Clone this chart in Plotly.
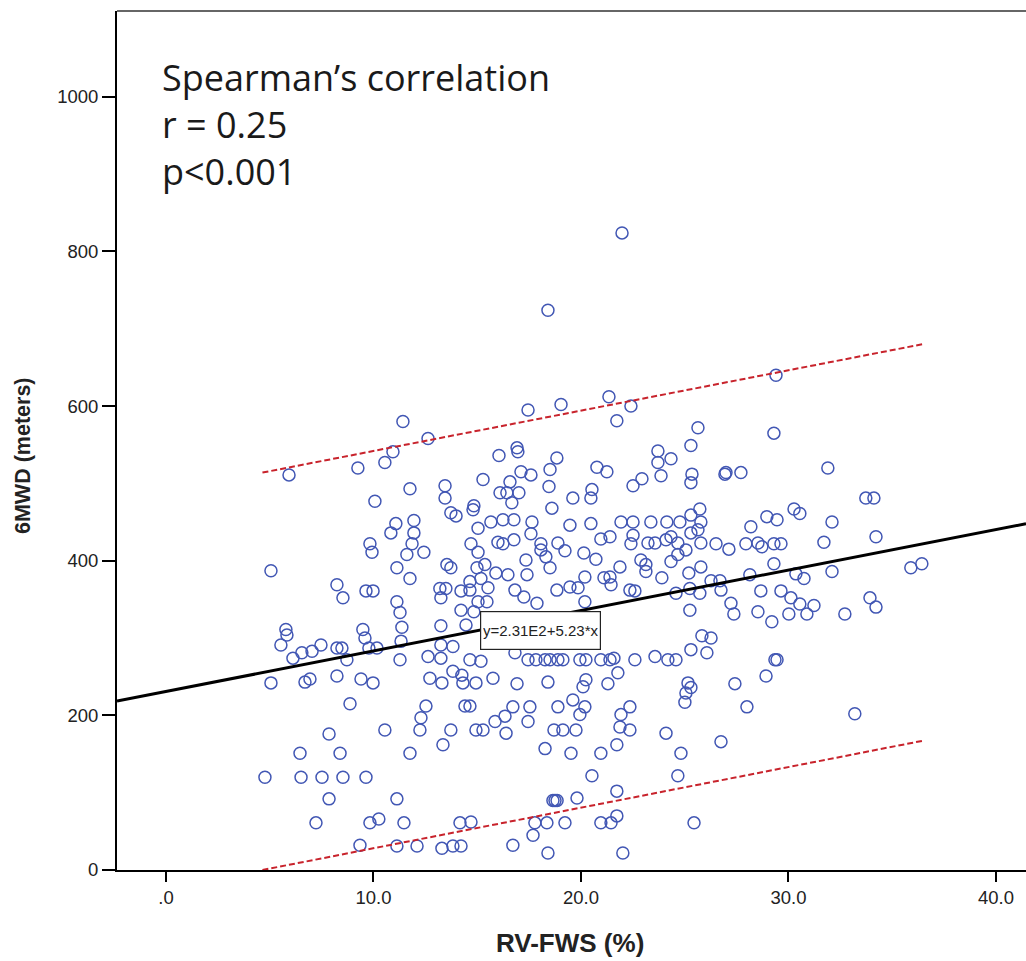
import plotly.graph_objects as go

# RV free-wall strain (%) and six-minute walk distance (m)
RV_FWS = [
    11.42, 12.63, 10.94, 10.55, 9.25, 5.93, 11.76, 13.45, 13.45, 15.28, 10.07, 14.84, 14.80, 13.73, 13.98,
    11.08, 10.84, 11.95, 11.95, 11.86, 15.04, 9.83, 9.93, 12.43, 11.61, 14.70, 15.04, 5.06, 11.13, 13.54,
    13.73, 14.99, 11.76, 15.18, 8.24, 8.53, 9.64, 9.98, 11.13, 11.28, 13.20, 13.49, 13.25, 14.22, 14.65,
    14.65, 14.22, 14.84, 11.37, 13.25, 14.46, 5.78, 9.49, 5.83, 5.54, 6.12, 6.55, 7.04, 7.47, 8.24,
    8.48, 8.72, 9.59, 9.78, 10.17, 11.28, 11.33, 5.06, 6.70, 6.94, 8.24, 9.40, 9.98, 8.87, 12.63,
    13.25, 13.83, 13.25, 12.72, 13.30, 13.83, 14.26, 14.31, 14.94, 14.65, 15.18, 12.53, 12.29, 12.24, 14.41,
    14.65, 10.55, 13.73, 13.35, 14.94, 15.28, 7.86, 6.46, 8.39, 11.76, 4.77, 6.51, 7.52, 8.53, 9.64,
    7.86, 11.13, 7.23, 9.83, 10.26, 11.47, 14.17, 14.70, 9.35, 11.13, 12.10, 13.30, 13.83, 14.22,
    17.45, 19.04, 21.35, 22.41, 21.73, 25.64, 25.30, 16.05, 16.92, 16.96, 18.84, 18.51, 17.11, 17.59,
    16.58, 16.10, 16.43, 17.01, 16.67, 18.46, 20.77, 21.25, 23.71, 24.34, 23.71, 23.86, 25.35, 25.30,
    22.51, 22.94, 20.53, 20.48, 19.61, 18.60, 15.66, 16.24, 16.77, 17.64, 17.59, 19.47, 20.48, 21.93,
    22.51, 23.37, 24.14, 24.77, 25.30, 25.73, 25.78, 16.00, 16.24, 16.77, 18.07, 18.07, 18.89, 19.23,
    20.96, 21.40, 22.51, 22.41, 23.23, 23.57, 24.10, 24.34, 24.67, 25.06, 25.30, 25.64, 25.78, 17.35,
    18.31, 18.51, 20.14, 20.72, 22.89, 23.13, 23.13, 24.34, 24.67, 25.20, 25.78, 15.37, 15.90, 16.48,
    17.40, 20.19, 21.11, 21.40, 21.45, 21.88, 23.90, 15.52, 16.82, 17.25, 17.88, 18.84, 19.47, 19.86,
    22.36, 22.60, 24.58, 25.25, 25.73, 15.04, 15.47, 20.19, 25.25,
    29.40, 29.30, 31.90, 26.94, 26.99, 27.71, 33.73, 34.12, 30.27, 30.55, 28.96, 29.45, 28.19, 32.10,
    26.51, 27.13, 27.95, 28.53, 28.72, 29.30, 29.64, 31.71, 34.22, 29.30, 28.14, 30.36, 30.75, 32.10,
    35.90, 36.43, 26.27, 26.70, 26.75, 28.67, 29.64, 30.12, 27.23, 27.37, 28.53, 30.02, 30.55, 31.23,
    30.89, 32.72, 33.93, 34.22, 29.20,
    15.76, 16.82, 17.45, 17.83, 18.27, 18.51, 18.89, 19.13, 19.95, 20.24, 20.96, 21.40, 21.59, 21.78,
    22.60, 23.57, 24.19, 24.58, 25.30, 25.83, 26.27, 26.07, 16.92, 18.41, 20.24, 20.10, 21.30, 25.16,
    25.06, 25.01, 25.30, 16.72, 17.54, 17.45, 18.89, 19.61, 20.19, 19.95, 22.36, 21.93, 21.88, 22.36,
    15.86, 16.34, 16.39, 18.70, 19.13, 19.76, 24.10, 18.27, 19.52, 20.96, 21.73, 24.82, 20.53, 24.67,
    18.65, 18.75, 18.85, 19.81, 21.73, 17.78, 18.36, 17.69, 19.23, 20.96, 21.45, 21.73, 25.45, 16.72,
    18.41, 22.02, 29.35, 29.45, 28.92, 27.42, 28.00, 33.20, 26.75, 21.98, 18.41,
]
SIX_MWD = [
    580, 558, 541, 527, 520, 511, 493, 497, 481, 505, 477, 471, 466, 462, 458,
    448, 436, 452, 436, 422, 442, 422, 411, 411, 408, 422, 411, 387, 391, 395,
    391, 391, 377, 377, 369, 352, 361, 361, 347, 333, 364, 364, 352, 361, 362,
    373, 336, 334, 314, 316, 317, 311, 311, 304, 291, 274, 281, 283, 291, 287,
    287, 272, 300, 287, 287, 272, 296, 242, 243, 247, 251, 247, 242, 215, 276,
    274, 289, 291, 248, 242, 257, 252, 242, 242, 272, 270, 212, 197, 181, 212,
    212, 181, 181, 162, 181, 181, 176, 151, 151, 151, 120, 120, 120, 120, 120,
    92, 92, 61, 61, 66, 61, 61, 62, 32, 31, 31, 28, 31, 31,
    595, 602, 612, 600, 581, 572, 549, 536, 546, 541, 533, 518, 515, 511,
    502, 488, 488, 488, 475, 496, 521, 515, 542, 532, 527, 510, 512, 501,
    497, 506, 492, 481, 481, 468, 450, 453, 453, 450, 435, 446, 448, 450,
    450, 450, 450, 450, 459, 467, 450, 424, 422, 427, 422, 414, 423, 413,
    428, 431, 433, 422, 423, 423, 427, 431, 423, 414, 436, 440, 423, 401,
    405, 391, 410, 402, 401, 395, 386, 399, 408, 384, 392, 395, 384, 382,
    382, 379, 378, 379, 369, 392, 378, 365, 362, 353, 345, 362, 366, 365,
    362, 361, 358, 364, 358, 347, 347, 347, 336,
    640, 565, 520, 512, 514, 514, 481, 481, 467, 461, 457, 453, 444, 450,
    422, 415, 422, 423, 418, 422, 422, 424, 431, 396, 382, 383, 377, 386,
    391, 396, 374, 374, 362, 361, 361, 352, 345, 331, 334, 331, 344, 342,
    331, 331, 352, 340, 321,
    248, 281, 272, 272, 272, 272, 272, 272, 272, 272, 272, 272, 274, 255,
    272, 276, 272, 272, 285, 303, 300, 281, 241, 243, 246, 237, 241, 242,
    229, 217, 236, 211, 211, 192, 211, 220, 211, 201, 211, 201, 185, 181,
    192, 199, 177, 181, 181, 181, 177, 157, 151, 151, 162, 151, 122, 122,
    90, 90, 90, 93, 102, 61, 61, 45, 61, 61, 61, 70, 61, 32,
    22, 22, 272, 272, 251, 241, 211, 202, 166, 824, 724,
]

# Linear fit shown on the chart: y = 2.31E2 + 5.23*x
FIT_INTERCEPT = 231
FIT_SLOPE = 5.23
# 95% individual prediction limits (end points)
PI_X = [4.65, 36.45]
PI_UPPER = [514, 680]
PI_LOWER = [0, 167]

X_RANGE = [-2.36, 41.45]
Y_RANGE = [0, 1111]
X_TICKS = [0, 10, 20, 30, 40]
X_TICKTEXT = [".0", "10.0", "20.0", "30.0", "40.0"]
Y_TICKS = [0, 200, 400, 600, 800, 1000]
Y_TICKTEXT = ["0", "200", "400", "600", "800", "1000"]

STAT_LINES = ["Spearman’s correlation", "r = 0.25", "p<0.001"]
EQUATION = "y=2.31E2+5.23*x"

fit_x = X_RANGE
fit_y = [FIT_INTERCEPT + FIT_SLOPE * v for v in fit_x]

fig = go.Figure()
fig.add_trace(go.Scatter(
    x=RV_FWS, y=SIX_MWD, mode="markers",
    marker=dict(symbol="circle-open", size=12, color="#4257b4", line=dict(width=1.5, color="#4257b4")),
    showlegend=False, hoverinfo="x+y",
))
fig.add_trace(go.Scatter(x=PI_X, y=PI_UPPER, mode="lines",
                         line=dict(color="#c8232c", width=2, dash="6px,3px"), showlegend=False))
fig.add_trace(go.Scatter(x=PI_X, y=PI_LOWER, mode="lines",
                         line=dict(color="#c8232c", width=2, dash="6px,3px"), showlegend=False))
fig.add_trace(go.Scatter(x=fit_x, y=fit_y, mode="lines",
                         line=dict(color="black", width=3), showlegend=False))

tick_font = dict(family="Liberation Sans, Arial, sans-serif", size=18.5, color="#222")

fig.update_layout(
    width=1026, height=961,
    margin=dict(l=117, r=0, t=11, b=91),
    paper_bgcolor="white", plot_bgcolor="white",
    xaxis=dict(range=X_RANGE, tickvals=X_TICKS, ticktext=X_TICKTEXT, showgrid=False, zeroline=False,
               showline=True, linecolor="black", linewidth=2, ticks="outside", ticklen=10,
               tickwidth=2, tickcolor="black", tickfont=tick_font),
    yaxis=dict(range=Y_RANGE, tickvals=Y_TICKS, ticktext=Y_TICKTEXT, showgrid=False, zeroline=False,
               showline=True, linecolor="black", linewidth=2, ticks="outside", ticklen=13,
               tickwidth=2, tickcolor="black", tickfont=tick_font),
)

# top frame line
fig.add_shape(type="line", xref="paper", yref="paper", x0=0, x1=1, y0=1, y1=1,
              line=dict(color="#666", width=2))

fig.add_annotation(text="<b>RV-FWS (%)</b>", xref="paper", yref="paper",
                   x=(570 - 117) / 909, y=(870 - 943) / 859, xanchor="center", yanchor="middle",
                   showarrow=False,
                   font=dict(family="Liberation Sans, Arial, sans-serif", size=26, color="#222"))
fig.add_annotation(text="<b>6MWD (meters)</b>", xref="paper", yref="paper",
                   x=(23 - 117) / 909, y=(870 - 456) / 859, xanchor="center", yanchor="middle",
                   textangle=-90, showarrow=False,
                   font=dict(family="Liberation Sans, Arial, sans-serif", size=21.5, color="#222"))

fig.add_annotation(text="<br>".join(STAT_LINES), xref="paper", yref="paper", x=(160 - 117) / 909,
                   y=(870 - 124) / 859, xanchor="left", yanchor="middle", align="left",
                   showarrow=False, font=dict(family="Open Sans, sans-serif", size=36, color="#1a1a1a"))

fig.add_annotation(text=EQUATION, xref="paper", yref="paper",
                   x=(540.5 - 117) / 909, y=(870 - 630.5) / 859, xanchor="center", yanchor="middle",
                   width=115, height=33, align="center",
                   showarrow=False, bgcolor="white", bordercolor="#222", borderwidth=1.2, borderpad=2,
                   font=dict(family="Liberation Sans, Arial, sans-serif", size=15, color="#222"))

fig.write_html("out.html")
